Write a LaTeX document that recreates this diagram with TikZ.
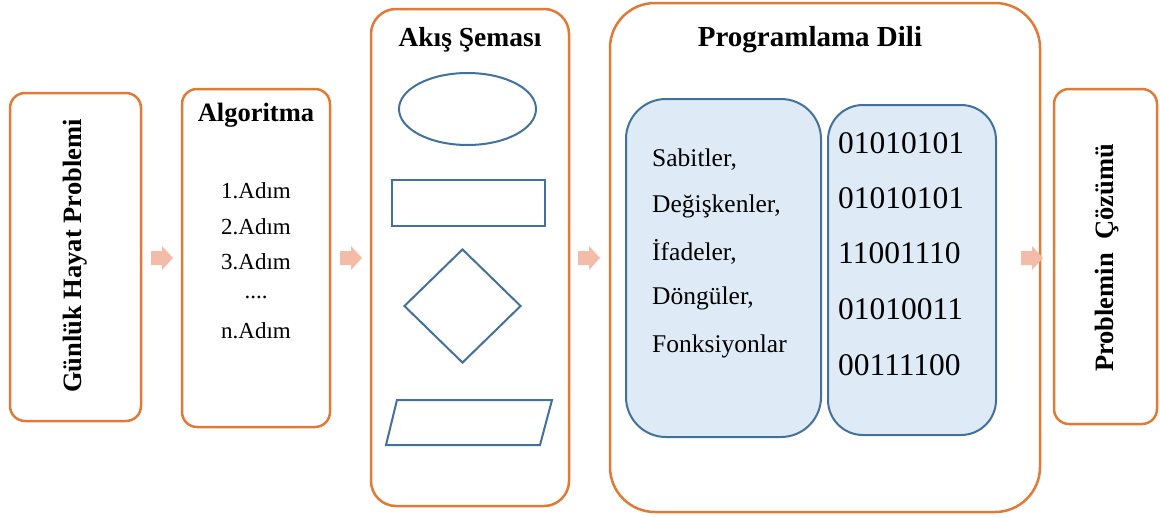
\documentclass[tikz,border=0pt]{standalone}
\usepackage{fontspec}
\setmainfont{Liberation Serif}
\usetikzlibrary{shapes.geometric}
\definecolor{orng}{HTML}{E07A35}
\definecolor{blu}{HTML}{41719C}
\definecolor{lblu}{HTML}{DEEBF7}
\definecolor{arrc}{HTML}{F4BCA8}
\begin{document}
\begin{tikzpicture}[x=1pt,y=-1pt,
  obox/.style={draw=orng,line width=2.5pt,fill=white,rectangle,inner sep=0pt},
  ibox/.style={draw=blu,line width=2pt,fill=lblu,rectangle,inner sep=0pt},
  fshape/.style={draw=blu,line width=2pt,inner sep=0pt},
  title/.style={font=\fontsize{26.5}{30}\selectfont\bfseries},
  stepitem/.style={font=\fontsize{23}{27}\selectfont},
  listitem/.style={font=\fontsize{25.5}{30}\selectfont,anchor=west,inner sep=0pt},
  binitem/.style={font=\fontsize{31.5}{36}\selectfont,anchor=west,inner sep=0pt}]
\useasboundingbox (0,0) rectangle (1160,517);

% main boxes
\node[obox,rounded corners=15pt,minimum width=131pt,minimum height=328pt] (b1) at (75.5,257) {};
\node[obox,rounded corners=15pt,minimum width=148pt,minimum height=338pt] (b2) at (256,258) {};
\node[obox,rounded corners=25pt,minimum width=198pt,minimum height=497pt] (b3) at (470,257.5) {};
\node[obox,rounded corners=45pt,minimum width=430pt,minimum height=509pt] (b4) at (825,257.5) {};
\node[obox,rounded corners=15pt,minimum width=103pt,minimum height=335pt] (b5) at (1105.5,256.5) {};

% box 1
\node[title,rotate=90] (t1) at (75,256) {Günlük Hayat Problemi};

% box 2
\node[title] (t2) at (256,115) {Algoritma};
\node[stepitem] (s1) at (256,191) {1.Adım};
\node[stepitem] (s2) at (256,227) {2.Adım};
\node[stepitem] (s3) at (256,262) {3.Adım};
\node[stepitem] (s4) at (256,297) {....};
\node[stepitem] (s5) at (256,331) {n.Adım};

% box 3
\node[title,font=\fontsize{27.5}{32}\selectfont\bfseries] (t3) at (470,40) {Akış Şeması};
\node[fshape,ellipse,minimum width=137pt,minimum height=72pt] (e1) at (467.5,109) {};
\node[fshape,rectangle,minimum width=153pt,minimum height=46pt] (r1) at (468.5,203) {};
\node[fshape,diamond,minimum width=117pt,minimum height=114pt] (d1) at (462.5,306) {};
\draw[blu,line width=2pt,line join=miter] (397,400) -- (552,400) -- (540,445) -- (386,445) -- cycle;

% box 4
\node[title,font=\fontsize{29}{33}\selectfont\bfseries] (t4) at (810,40) {Programlama Dili};
\node[ibox,rounded corners=40pt,minimum width=195pt,minimum height=338pt] (il) at (723.5,268) {};
\node[ibox,rounded corners=35pt,minimum width=168pt,minimum height=330pt] (ir) at (912,270) {};
\node[listitem] (l1) at (652,160) {Sabitler,};
\node[listitem] (l2) at (652,206) {Değişkenler,};
\node[listitem] (l3) at (652,252) {İfadeler,};
\node[listitem] (l4) at (652,298) {Döngüler,};
\node[listitem] (l5) at (652,346) {Fonksiyonlar};
\node[binitem] (n1) at (838,143) {01010101};
\node[binitem] (n2) at (838,198) {01010101};
\node[binitem] (n3) at (838,253) {11001110};
\node[binitem] (n4) at (838,309) {01010011};
\node[binitem] (n5) at (838,365) {00111100};

% box 5
\node[title,rotate=90] (t5) at (1107,258) {Problemin \ Çözümü};

% block arrows
\foreach \xa in {151,340,578,1021}{
  \fill[arrc] (\xa,251) -- (\xa+11,251) -- (\xa+11,246) -- (\xa+22,258) -- (\xa+11,270) -- (\xa+11,265) -- (\xa,265) -- cycle;
}
\end{tikzpicture}
\end{document}
